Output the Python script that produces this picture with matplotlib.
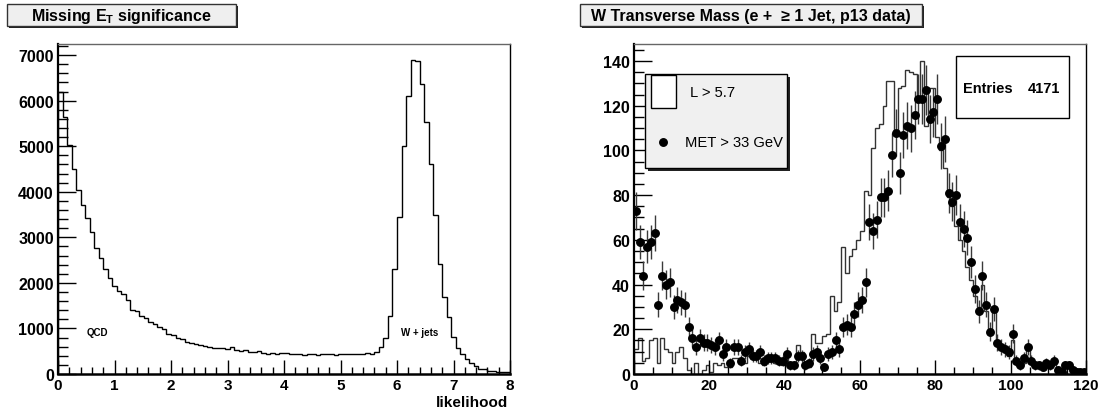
import numpy as np
import matplotlib
matplotlib.use("Agg")
import matplotlib.pyplot as plt
from matplotlib.patches import Rectangle
from matplotlib.lines import Line2D
from matplotlib.ticker import MultipleLocator

plt.rcParams["font.family"] = ["Liberation Sans", "DejaVu Sans"]
plt.rcParams["font.weight"] = "bold"
plt.rcParams["mathtext.fontset"] = "custom"
plt.rcParams["mathtext.rm"] = "Liberation Sans:bold"
plt.rcParams["mathtext.bf"] = "Liberation Sans:bold"

# ---- left panel: likelihood distribution, 100 bins from 0 to 8
lik_range = (0.0, 8.0)
lik_counts = [
    6200, 5650, 5030, 4500, 4040, 3710, 3420, 3120, 2770, 2550,
    2300, 2100, 1930, 1820, 1760, 1620, 1400, 1380, 1270, 1230,
    1140, 1100, 1030, 980, 880, 850, 800, 770, 700, 690,
    660, 640, 615, 600, 580, 570, 570, 540, 600, 530,
    510, 520, 490, 480, 500, 470, 440, 460, 450, 470,
    460, 440, 430, 440, 420, 430, 440, 420, 430, 450,
    440, 420, 430, 440, 430, 440, 450, 440, 460, 450,
    480, 590, 790, 1270, 2300, 3450, 5010, 6110, 6900, 6880,
    6370, 5540, 4620, 3500, 2420, 1690, 1250, 810, 570, 440,
    330, 240, 175, 110, 110, 70, 70, 40, 40, 40,
]

# ---- right panel: W transverse mass, 120 bins of 1 GeV
mt_range = (0.0, 120.0)
mt_hist_L = [
    11, 16, 6, 7, 15, 16, 5, 16, 11, 10,
    5, 10, 12, 7, 2, 0, 5, 0, 2, 4,
    1, 5, 4, 5, 3, 3, 7, 7, 7, 5,
    8, 7, 7, 5, 4, 7, 6, 5, 7, 4,
    10, 5, 4, 13, 10, 4, 3, 18, 14, 14,
    17, 18, 35, 28, 32, 57, 45, 53, 56, 60,
    64, 82, 80, 101, 110, 112, 120, 131, 131, 108,
    128, 129, 136, 135, 134, 124, 140, 111, 128, 128,
    106, 100, 92, 79, 75, 66, 60, 55, 48, 42,
    35, 30, 40, 28, 18, 28, 15, 12, 10, 8,
    15, 5, 3, 5, 12, 5, 4, 3, 2, 4,
    3, 5, 1, 1, 3, 3, 1, 1, 0, 0,
]
mt_points_met = [
    73, 59, 44, 57, 59, 63, 31, 44, 40, 41,
    30, 33, 32, 31, 21, 16, 12, 16, 14, 14,
    13, 12, 15, 9, 12, 5, 12, 12, 6, 10,
    11, 8, 8, 10, 6, 7, 7, 7, 6, 6,
    9, 4, 4, 8, 8, 4, 5, 9, 10, 7,
    3, 9, 10, 15, 11, 21, 22, 21, 27, 31,
    33, 41, 68, 64, 69, 79, 79, 82, 98, 108,
    90, 107, 111, 110, 116, 123, 123, 127, 114, 117,
    123, 102, 105, 81, 77, 80, 68, 65, 61, 50,
    38, 28, 44, 31, 19, 29, 14, 12, 11, 10,
    18, 6, 4, 7, 12, 6, 4, 4, 3, 5,
    4, 6, 2, 1, 4, 4, 2, 1, 1, 1,
]
n_entries = 4171

W, H = 1103, 414


def fx(px):
    return px / W


def fy(py):
    return 1 - py / H


def style_axis(ax, xmaj, xmin, ymaj, ymin):
    ax.xaxis.set_major_locator(MultipleLocator(xmaj))
    ax.xaxis.set_minor_locator(MultipleLocator(xmin))
    ax.yaxis.set_major_locator(MultipleLocator(ymaj))
    ax.yaxis.set_minor_locator(MultipleLocator(ymin))
    ax.tick_params(axis="x", which="major", direction="in", length=10, width=1, pad=3, labelsize=11)
    ax.tick_params(axis="x", which="minor", direction="in", length=5, width=1)
    ax.tick_params(axis="y", which="major", direction="in", length=13, width=1, pad=3, labelsize=11.5)
    ax.tick_params(axis="y", which="minor", direction="in", length=7, width=1)
    ax.tick_params(top=False, right=False, which="both")
    ax.spines["left"].set_linewidth(1.6)
    ax.spines["bottom"].set_linewidth(1.8)
    ax.spines["top"].set_linewidth(1.0)
    ax.spines["top"].set_color("#666666")
    ax.spines["right"].set_linewidth(1.0)


def title_box(fig, x0, x1, y0, y1, text):
    fig.add_artist(Rectangle((fx(x0 + 1.5), fy(y1 + 1.5)), fx(x1 - x0), fy(y0) - fy(y1),
                             transform=fig.transFigure, facecolor="#222222", edgecolor="none"))
    fig.add_artist(Rectangle((fx(x0), fy(y1)), fx(x1 - x0), fy(y0) - fy(y1),
                             transform=fig.transFigure, facecolor="#efefef", edgecolor="#333333", lw=1))
    fig.text(fx((x0 + x1) / 2), fy((y0 + y1) / 2), text, ha="center", va="center",
             fontsize=11.5, fontweight="bold")


fig = plt.figure(figsize=(W / 100, H / 100), dpi=100)

# ---------------- left panel
ax1 = fig.add_axes([fx(58), fy(375), fx(510 - 58), fy(45) - fy(375)])
edges1 = np.linspace(lik_range[0], lik_range[1], len(lik_counts) + 1)
ax1.stairs(lik_counts, edges1, color="black", lw=1.0)
ax1.set_xlim(*lik_range)
ax1.set_ylim(0, 1.05 * max(lik_counts))
style_axis(ax1, 1, 0.2, 1000, 200)
ax1.text(0.5, 920, "QCD", fontsize=7, fontweight="bold", va="center", ha="left")
ax1.text(6.07, 920, "W + jets", fontsize=7, fontweight="bold", va="center", ha="left")
fig.text(fx(508), fy(396), "likelihood", ha="right", va="top", fontsize=11, fontweight="bold")
title_box(fig, 7, 236, 5, 27, r"Missing E$_{\mathrm{T}}$ significance")

# ---------------- right panel
ax2 = fig.add_axes([fx(634), fy(375), fx(1086 - 634), fy(45) - fy(375)])
edges2 = np.linspace(mt_range[0], mt_range[1], len(mt_hist_L) + 1)
centers2 = 0.5 * (edges2[:-1] + edges2[1:])
ax2.stairs(mt_hist_L, edges2, color="#333333", lw=1.0)
pts = np.array(mt_points_met, dtype=float)
ax2.errorbar(centers2, pts, yerr=np.sqrt(pts), fmt="o", ms=5.4, color="black",
             ecolor="#3a3a3a", elinewidth=1.0, capsize=0)
ax2.set_xlim(*mt_range)
ax2.set_ylim(0, 147.6)
style_axis(ax2, 20, 5, 20, 5)
title_box(fig, 580, 922, 5, 27, "W Transverse Mass (e +  \u2265 1 Jet, p13 data)")

# legend box (ROOT style with shadow)
fig.add_artist(Rectangle((fx(648), fy(172)), fx(787 - 645), fy(75) - fy(169),
                         transform=fig.transFigure, facecolor="#222222", edgecolor="none"))
fig.add_artist(Rectangle((fx(645), fy(169)), fx(787 - 645), fy(75) - fy(169),
                         transform=fig.transFigure, facecolor="#f0f0f0", edgecolor="black", lw=1))
fig.add_artist(Rectangle((fx(651), fy(109)), fx(676 - 651), fy(76) - fy(109),
                         transform=fig.transFigure, facecolor="white", edgecolor="black", lw=1))
fig.text(fx(690), fy(93), "L > 5.7", ha="left", va="center", fontsize=10.6, fontweight="normal")
fig.add_artist(Line2D([fx(663)], [fy(143)], marker="o", ms=5.4, color="black",
                      transform=fig.transFigure))
fig.text(fx(685), fy(143), "MET > 33 GeV", ha="left", va="center", fontsize=10.6, fontweight="normal")

# stats box
fig.add_artist(Rectangle((fx(956), fy(119)), fx(1069 - 956), fy(57) - fy(119),
                         transform=fig.transFigure, facecolor="white", edgecolor="black", lw=1))
fig.text(fx(963), fy(89), "Entries", ha="left", va="center", fontsize=10.5, fontweight="bold")
fig.text(fx(1060), fy(89), str(n_entries), ha="right", va="center", fontsize=10.5, fontweight="bold")

fig.savefig("out.png", dpi=100)
